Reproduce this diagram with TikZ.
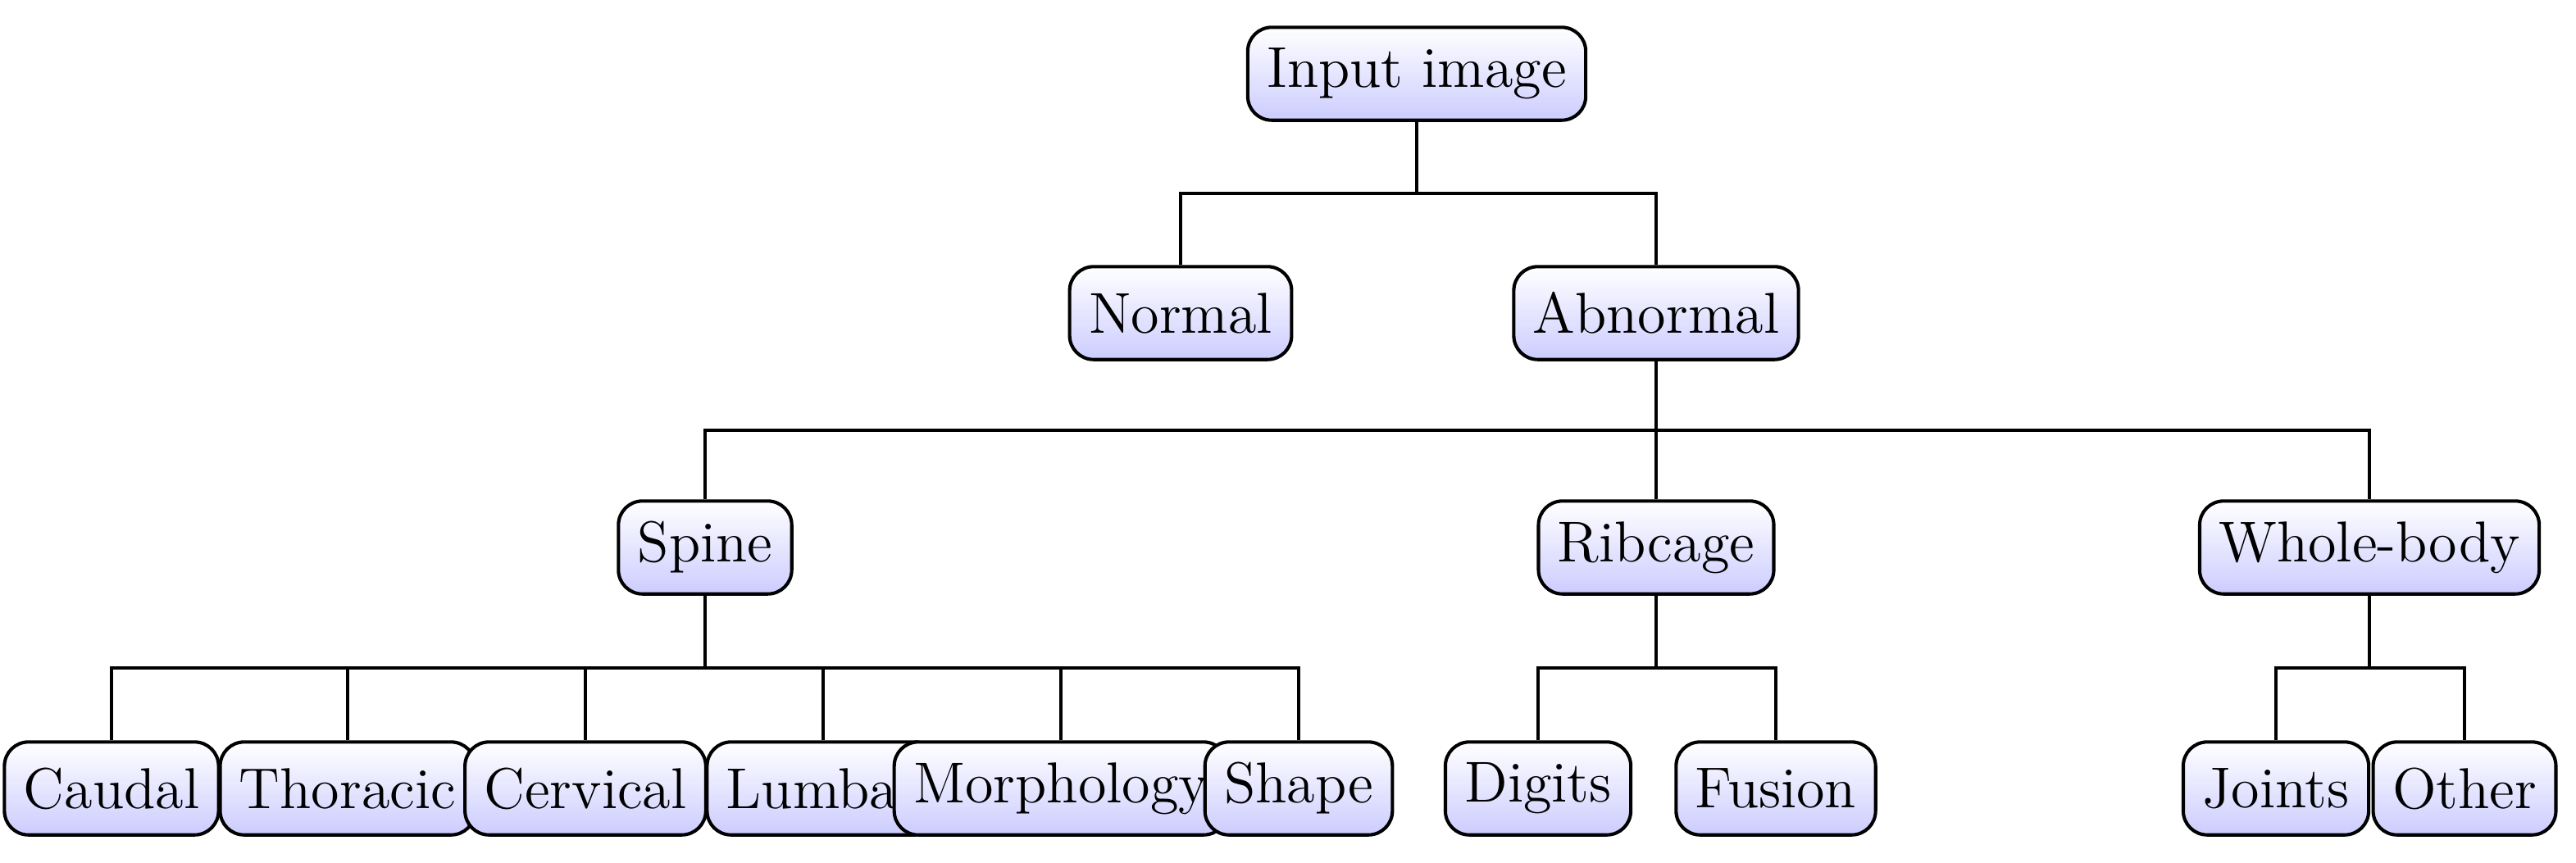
\documentclass[tikz,border=0pt]{standalone}
\usepackage{mathpazo}
\usetikzlibrary{calc}
\begin{document}
\begin{tikzpicture}[x=0.012cm,y=-0.012cm,
  box/.style={draw,line width=0.7pt,rounded corners=5pt,top color=white,bottom color=blue!20,
    minimum height=0.68cm,inner xsep=4pt,font=\large},
  fork/.style={line width=0.7pt,to path={(\tikztostart) |- ($(\tikztostart)!0.5!(\tikztotarget)$) -| (\tikztotarget)}}]
\useasboundingbox (0,0) rectangle (1571,526);
\node[box] (in) at (864,45) {Input image};
\node[box] (no) at (720,191) {Normal};
\node[box] (ab) at (1010,191) {Abnormal};
\node[box] (sp) at (430,334) {Spine};
\node[box] (rc) at (1010,334) {Ribcage};
\node[box] (wb) at (1445,334) {Whole-body};
\node[box] (ca) at (68,481) {Caudal};
\node[box] (th) at (212,481) {Thoracic};
\node[box] (ce) at (357,481) {Cervical};
\node[box] (lu) at (502,481) {Lumbar};
\node[box] (mo) at (647,481) {Morphology};
\node[box] (sh) at (792,481) {Shape};
\node[box] (di) at (938,481) {Digits};
\node[box] (fu) at (1083,481) {Fusion};
\node[box] (jo) at (1388,481) {Joints};
\node[box] (ot) at (1503,481) {Other};
\foreach \p/\c in {in/no,in/ab,ab/sp,ab/rc,ab/wb,sp/ca,sp/th,sp/ce,sp/lu,sp/mo,sp/sh,rc/di,rc/fu,wb/jo,wb/ot}
  \draw[fork] (\p.south) to (\c.north);
\end{tikzpicture}
\end{document}
